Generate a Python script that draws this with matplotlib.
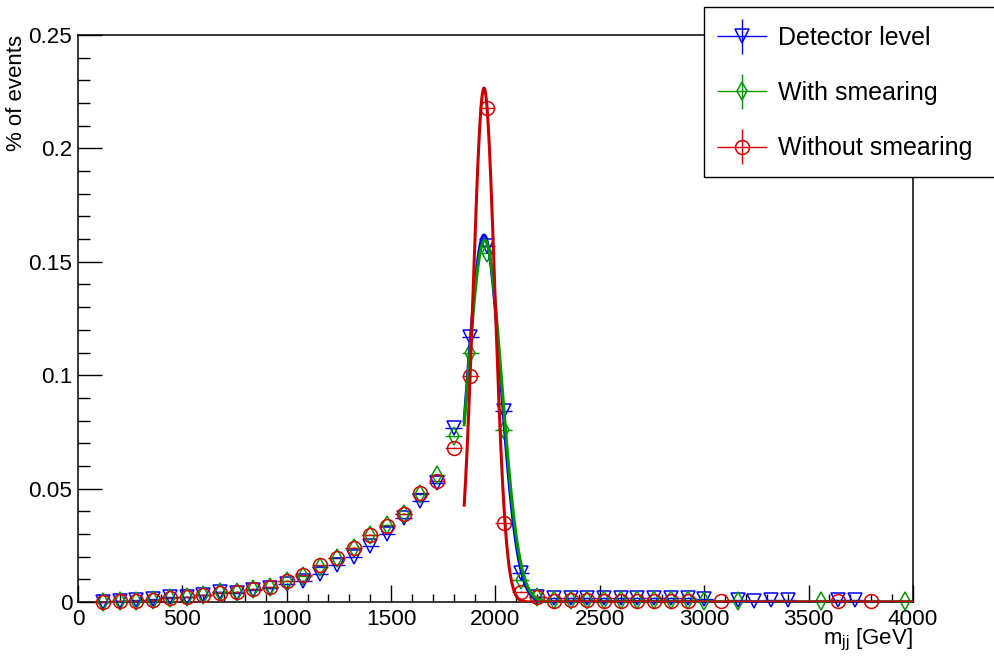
import numpy as np
import matplotlib
matplotlib.use("Agg")
import matplotlib.pyplot as plt
from matplotlib.patches import Rectangle
from matplotlib.ticker import MultipleLocator, FuncFormatter
from matplotlib.container import ErrorbarContainer
from matplotlib.legend_handler import HandlerErrorbar

plt.rcParams['font.family'] = ['Liberation Sans', 'DejaVu Sans']
plt.rcParams['mathtext.default'] = 'regular'

# bin centres (80 GeV bins) shared by the bulk of the spectrum
bins_main = [120, 200, 280, 360, 440, 520, 600, 680, 760, 840, 920, 1000,
             1080, 1160, 1240, 1320, 1400, 1480, 1560, 1640, 1720, 1800,
             1880, 1960, 2040, 2120, 2200, 2280, 2360, 2440, 2520, 2600,
             2680, 2760, 2840, 2920]

# detector level
det_x = bins_main + [3000, 3160, 3240, 3320, 3400, 3640, 3720]
det_y = [0.0002, 0.0006, 0.0008, 0.0012, 0.0020, 0.0023, 0.0030, 0.0045,
         0.0040, 0.0055, 0.0060, 0.0080, 0.0093, 0.0122, 0.0165, 0.0200,
         0.0245, 0.0300, 0.0370, 0.0445, 0.0525, 0.0767, 0.1170, 0.1570,
         0.0840, 0.0128, 0.0023, 0.0018, 0.0018, 0.0018, 0.0018, 0.0018,
         0.0018, 0.0018, 0.0018, 0.0018,
         0.0012, 0.0008, 0.0006, 0.0008, 0.0008, 0.0008, 0.0008]

# parton level with smearing
smear_x = bins_main + [3000, 3160, 3560, 3960]
smear_y = [0.0002, 0.0006, 0.0006, 0.0010, 0.0018, 0.0023, 0.0030, 0.0042,
           0.0046, 0.0058, 0.0064, 0.0093, 0.0115, 0.0155, 0.0195, 0.0240,
           0.0297, 0.0340, 0.0390, 0.0475, 0.0560, 0.0730, 0.1100, 0.1540,
           0.0758, 0.0095, 0.0023, 0.0008, 0.0008, 0.0008, 0.0008, 0.0008,
           0.0008, 0.0008, 0.0008, 0.0008,
           0.0005, 0.0005, 0.0003, 0.0003]

# parton level without smearing
nosmear_x = bins_main + [3080, 3640, 3800]
nosmear_y = [0.0002, 0.0006, 0.0006, 0.0010, 0.0019, 0.0023, 0.0030, 0.0040,
             0.0046, 0.0059, 0.0065, 0.0093, 0.0118, 0.0163, 0.0195, 0.0240,
             0.0297, 0.0337, 0.0390, 0.0480, 0.0532, 0.0680, 0.0996, 0.2180,
             0.0350, 0.0045, 0.0023, 0.0004, 0.0009, 0.0009, 0.0004, 0.0004,
             0.0004, 0.0004, 0.0004, 0.0004,
             0.0004, 0.0004, 0.0004]

# gaussian fit results: detector, with smearing, without smearing
fit_amp = [0.1618, 0.1596, 0.2266]
fit_mean = [1945, 1948, 1945]
fit_sigma = [80, 82, 52]
fit_range = (1850, 4000)

labels = ['Detector level', 'With smearing', 'Without smearing']
colors = ['#0000ff', '#009a00', '#dd0000']
markers = ['v', 'd', 'o']
bin_half = 40

fig = plt.figure(figsize=(9.95, 6.59), dpi=100)
ax = fig.add_axes([78 / 995, 57 / 659, 835 / 995, 567 / 659])

series = [(det_x, det_y), (smear_x, smear_y), (nosmear_x, nosmear_y)]
handles = []
for (x, y), c, m, lab in zip(series, colors, markers, labels):
    eb = ax.errorbar(x, y, xerr=bin_half, yerr=0.0002, fmt=m, color=c,
                     mfc='none', mec=c, ms=10 if m != 'd' else 9, mew=1.1,
                     elinewidth=1.0, capsize=0, label=lab, clip_on=False,
                     zorder=3)
    for art in eb.lines[2]:
        art.set_clip_on(False)
    handles.append(eb)

xf = np.linspace(fit_range[0], fit_range[1], 2000)
for a, mu, s, c in zip(fit_amp, fit_mean, fit_sigma, colors):
    col = '#cc0000' if c == '#dd0000' else c
    ax.plot(xf, a * np.exp(-0.5 * ((xf - mu) / s) ** 2), color=col, lw=2.2,
            zorder=4)

ax.set_xlim(0, 4000)
ax.set_ylim(0, 0.25)
ax.xaxis.set_major_locator(MultipleLocator(500))
ax.xaxis.set_minor_locator(MultipleLocator(100))
ax.yaxis.set_major_locator(MultipleLocator(0.05))
ax.yaxis.set_minor_locator(MultipleLocator(0.01))
ax.yaxis.set_major_formatter(FuncFormatter(lambda v, p: '%g' % round(v, 3)))
ax.xaxis.set_major_formatter(FuncFormatter(lambda v, p: '%g' % v))

ax.tick_params(which='both', direction='in', top=False, right=False,
               labelsize=16.2, width=1.0)
ax.tick_params(axis='x', which='major', length=12, pad=5)
ax.tick_params(axis='x', which='minor', length=6)
ax.tick_params(axis='y', which='major', length=17.5, pad=4)
ax.tick_params(axis='y', which='minor', length=8.6)
for sp in ax.spines.values():
    sp.set_linewidth(1.1)

ax.set_xlabel(r'$m_{jj}$ [GeV]', fontsize=16, loc='right')
ax.xaxis.label.set_va('baseline')
ax.xaxis.set_label_coords(1.0, -0.0755)
ax.set_ylabel('% of events', fontsize=16, loc='top')
ax.yaxis.set_label_coords(-0.061, 1.0)

# legend box sits in the top right corner, over the frame
fig.add_artist(Rectangle((704 / 995, 1 - 177 / 659), 300 / 995, 170 / 659,
                         transform=fig.transFigure, facecolor='white',
                         edgecolor='black', lw=1.0, zorder=4))
leg = fig.legend(handles=handles, labels=labels, loc='upper left',
                 bbox_to_anchor=(704 / 995, 1 - 14.5 / 659),
                 borderaxespad=0, fontsize=18, frameon=False,
                 borderpad=0.45, labelspacing=1.25, handlelength=2.1,
                 handletextpad=0.4,
                 handler_map={ErrorbarContainer: HandlerErrorbar(xerr_size=1.0, yerr_size=0.7)})
leg.set_zorder(5)

fig.savefig('out.png', dpi=100)
